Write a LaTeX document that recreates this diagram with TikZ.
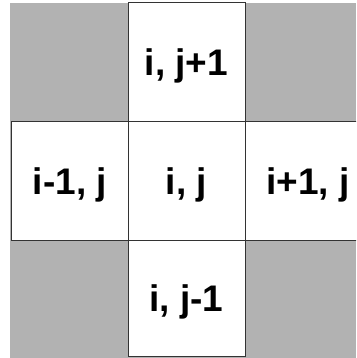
\documentclass[tikz,border=0pt]{standalone}
\usepackage{fontspec}
\setmainfont{Liberation Sans}
\begin{document}
\begin{tikzpicture}[x=1pt,y=-1pt,
  cell/.style={draw=black!80, line width=1pt, fill=white, minimum width=117pt,
    minimum height=118pt, inner sep=0pt, anchor=center,
    font=\fontsize{37}{40}\selectfont\bfseries, text height=26.5pt, text depth=0pt}]
\useasboundingbox (0,0) rectangle (356,358);
\clip (0,0) rectangle (356,358);
\fill[gray!60] (10,3) rectangle (356,358);
\node[cell, minimum height=119pt] (top) at (186.5,62.5) {i, j+1};
\node[cell, minimum width=118pt] (left) at (70,181) {i-1, j};
\node[cell] (center) at (186.5,181) {i, j};
\node[cell, minimum width=126pt] (right) at (308,181) {i+1, j};
\node[cell, minimum height=116pt] (bottom) at (186.5,298) {i, j-1};
\end{tikzpicture}
\end{document}
